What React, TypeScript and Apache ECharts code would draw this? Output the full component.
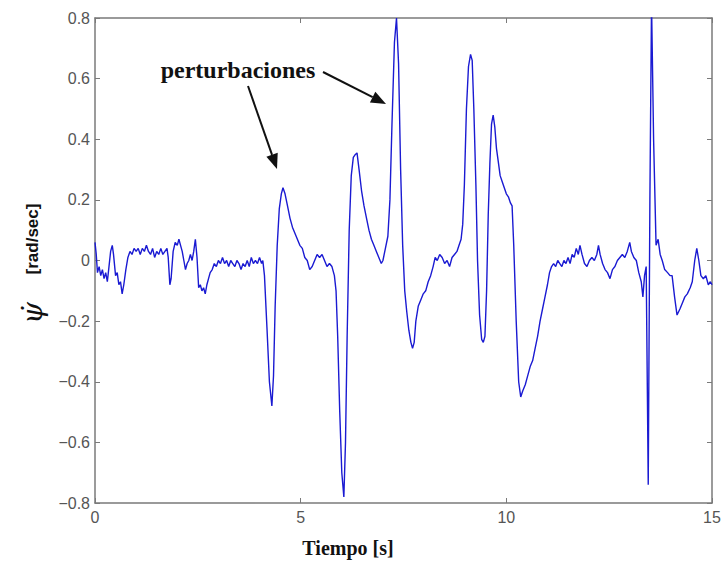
import React, { useEffect, useRef } from "react";
import * as echarts from "echarts";

const timeS: number[] = [
  0.00, 0.03, 0.06, 0.10, 0.14, 0.18, 0.22, 0.26, 0.30, 0.34, 0.38, 0.42, 0.45, 0.50, 0.54, 0.58, 0.62, 0.66, 0.70, 0.75,
  0.80, 0.85, 0.90, 0.95, 1.00, 1.05, 1.10, 1.15, 1.20, 1.25, 1.30, 1.35, 1.40, 1.45, 1.50, 1.55, 1.60, 1.65, 1.70, 1.75,
  1.78, 1.82, 1.85, 1.90, 1.95, 2.00, 2.04, 2.08, 2.12, 2.16, 2.20, 2.24, 2.28, 2.32, 2.36, 2.40, 2.44, 2.48, 2.52, 2.56,
  2.60, 2.64, 2.68, 2.72, 2.76, 2.80, 2.85, 2.90, 2.95, 3.00, 3.05, 3.10, 3.15, 3.20, 3.25, 3.30, 3.35, 3.40, 3.45, 3.50,
  3.55, 3.60, 3.65, 3.70, 3.75, 3.80, 3.85, 3.90, 3.95, 4.00, 4.05, 4.08, 4.12, 4.18, 4.24, 4.30, 4.34, 4.38, 4.43, 4.48,
  4.53, 4.57, 4.62, 4.68, 4.74, 4.80, 4.86, 4.92, 4.98, 5.04, 5.10, 5.16, 5.22, 5.28, 5.34, 5.40, 5.46, 5.52, 5.58, 5.64,
  5.70, 5.76, 5.82, 5.86, 5.90, 5.95, 6.00, 6.05, 6.09, 6.13, 6.18, 6.23, 6.28, 6.33, 6.37, 6.42, 6.48, 6.54, 6.60, 6.66,
  6.72, 6.78, 6.84, 6.90, 6.96, 7.00, 7.06, 7.12, 7.17, 7.22, 7.28, 7.33, 7.38, 7.43, 7.48, 7.53, 7.58, 7.63, 7.68, 7.72,
  7.76, 7.80, 7.86, 7.92, 7.98, 8.04, 8.10, 8.16, 8.22, 8.27, 8.32, 8.38, 8.44, 8.50, 8.56, 8.62, 8.68, 8.74, 8.80, 8.85,
  8.90, 8.94, 8.98, 9.03, 9.08, 9.13, 9.17, 9.21, 9.26, 9.30, 9.35, 9.40, 9.44, 9.48, 9.52, 9.56, 9.60, 9.64, 9.68, 9.72,
  9.76, 9.80, 9.85, 9.90, 9.95, 10.00, 10.05, 10.10, 10.14, 10.18, 10.24, 10.30, 10.35, 10.40, 10.46, 10.52, 10.58, 10.64, 10.70, 10.76,
  10.82, 10.88, 10.94, 11.00, 11.05, 11.10, 11.15, 11.20, 11.25, 11.30, 11.35, 11.40, 11.45, 11.50, 11.55, 11.60, 11.65, 11.70, 11.75, 11.79,
  11.84, 11.90, 11.96, 12.02, 12.08, 12.14, 12.20, 12.24, 12.28, 12.34, 12.40, 12.46, 12.52, 12.58, 12.64, 12.70, 12.76, 12.82, 12.88, 12.94,
  13.00, 13.04, 13.10, 13.16, 13.22, 13.28, 13.32, 13.36, 13.40, 13.45, 13.49, 13.53, 13.58, 13.64, 13.69, 13.74, 13.79, 13.85, 13.92, 13.98,
  14.03, 14.09, 14.15, 14.22, 14.28, 14.34, 14.40, 14.47, 14.52, 14.58, 14.63, 14.68, 14.73, 14.79, 14.85, 14.91, 14.96, 15.00,
];

const yawRate: number[] = [
  0.06, 0.02, -0.04, -0.02, -0.05, -0.03, -0.06, -0.04, -0.07, -0.02, 0.03, 0.05, 0.02, -0.05, -0.04, -0.08, -0.07, -0.11, -0.08, -0.03,
  0.01, 0.03, 0.02, 0.04, 0.03, 0.04, 0.02, 0.04, 0.03, 0.05, 0.03, 0.02, 0.04, 0.01, 0.03, 0.02, 0.04, 0.02, 0.03, 0.04,
  0.01, -0.08, -0.06, 0.03, 0.06, 0.05, 0.07, 0.05, 0.03, 0.00, -0.03, -0.01, 0.00, 0.02, 0.00, 0.03, 0.07, 0.01, -0.09, -0.08,
  -0.10, -0.09, -0.11, -0.08, -0.06, -0.04, -0.03, -0.01, -0.02, 0.00, -0.01, 0.01, -0.01, 0.00, -0.02, 0.00, -0.01, -0.02, 0.00, -0.01,
  -0.03, -0.01, -0.02, 0.00, -0.02, 0.01, -0.01, 0.00, -0.01, 0.01, -0.01, 0.00, -0.05, -0.22, -0.40, -0.48, -0.38, -0.15, 0.05, 0.17,
  0.22, 0.24, 0.22, 0.18, 0.14, 0.11, 0.09, 0.07, 0.05, 0.04, 0.01, 0.00, -0.03, -0.02, 0.00, 0.02, 0.01, 0.02, 0.00, -0.02,
  -0.01, -0.02, -0.05, -0.10, -0.25, -0.50, -0.70, -0.78, -0.60, -0.25, 0.10, 0.28, 0.34, 0.35, 0.355, 0.30, 0.23, 0.18, 0.14, 0.10,
  0.07, 0.05, 0.03, 0.01, -0.01, 0.00, 0.04, 0.08, 0.20, 0.45, 0.72, 0.80, 0.65, 0.30, 0.05, -0.10, -0.17, -0.23, -0.27, -0.29,
  -0.27, -0.20, -0.15, -0.13, -0.11, -0.10, -0.07, -0.05, -0.02, 0.01, 0.00, 0.02, 0.01, -0.01, 0.00, -0.02, 0.01, 0.02, 0.03, 0.05,
  0.07, 0.12, 0.25, 0.50, 0.64, 0.68, 0.66, 0.50, 0.25, 0.00, -0.18, -0.26, -0.27, -0.25, -0.10, 0.15, 0.32, 0.45, 0.48, 0.44,
  0.37, 0.33, 0.28, 0.26, 0.24, 0.22, 0.21, 0.19, 0.18, 0.05, -0.20, -0.40, -0.45, -0.43, -0.41, -0.38, -0.35, -0.33, -0.29, -0.25,
  -0.20, -0.16, -0.12, -0.08, -0.04, -0.02, -0.01, -0.02, 0.00, -0.01, -0.02, 0.00, -0.01, 0.01, -0.01, 0.02, 0.01, 0.04, 0.02, 0.05,
  0.02, -0.01, -0.02, 0.00, 0.01, 0.00, 0.02, 0.05, 0.02, -0.01, -0.03, -0.04, -0.06, -0.03, -0.02, 0.00, 0.01, 0.02, 0.01, 0.03,
  0.06, 0.03, 0.01, 0.00, -0.04, -0.07, -0.12, -0.05, -0.02, -0.74, 0.20, 0.85, 0.40, 0.05, 0.07, 0.02, 0.00, -0.03, -0.04, -0.05,
  -0.05, -0.12, -0.18, -0.16, -0.14, -0.12, -0.11, -0.09, -0.07, 0.00, 0.04, 0.00, -0.05, -0.06, -0.05, -0.08, -0.07, -0.08,
];

const xTicks: number[] = [0, 5, 10, 15];
const yTickLabels: string[] = ["−0.8", "−0.6", "−0.4", "−0.2", "0", "0.2", "0.4", "0.6", "0.8"];

const annotationText = "perturbaciones";
const xTitle = "Tiempo [s]";
const yTitle = "[rad/sec]";

function arrow(x1: number, y1: number, x2: number, y2: number) {
  const ang = Math.atan2(y2 - y1, x2 - x1);
  const len = 15;
  const half = 6;
  const bx = x2 - len * Math.cos(ang);
  const by = y2 - len * Math.sin(ang);
  const px = -Math.sin(ang) * half;
  const py = Math.cos(ang) * half;
  return [
    {
      type: "line",
      shape: { x1, y1, x2: bx, y2: by },
      style: { stroke: "#111", lineWidth: 2 },
    },
    {
      type: "polygon",
      shape: { points: [[x2, y2], [bx + px, by + py], [bx - px, by - py]] },
      style: { fill: "#111" },
    },
  ];
}

export default function App() {
  const ref = useRef<HTMLDivElement>(null);
  useEffect(() => {
    if (!ref.current) return;
    const chart = echarts.init(ref.current, null, { renderer: "svg" });
    const data = timeS.map((t, i) => [t, yawRate[i]]);
    const axisColor = "#7a7a7a";
    const labelColor = "#555";
    const yLabelFor = (v: number) => {
      const idx = Math.round((v + 0.8) / 0.2);
      return yTickLabels[idx] ?? "";
    };
    const frameAxis = (position: string, showLabel: boolean, extra: any) => ({
      type: "value",
      position,
      axisLine: { show: true, onZero: false, lineStyle: { color: axisColor, width: 1.5 } },
      axisTick: { show: true, inside: true, length: 5, lineStyle: { color: axisColor } },
      axisLabel: showLabel
        ? { color: labelColor, fontSize: 16, fontFamily: "Liberation Sans, Arial, sans-serif", ...extra }
        : { show: false },
      splitLine: { show: false },
    });
    chart.setOption({
      animation: false,
      backgroundColor: "#fff",
      grid: { left: 95, right: 15, top: 18, bottom: 59, containLabel: false },
      xAxis: [
        { ...frameAxis("bottom", true, { margin: 6 }), min: xTicks[0], max: xTicks[xTicks.length - 1], interval: 5 },
        { ...frameAxis("top", false, {}), min: xTicks[0], max: xTicks[xTicks.length - 1], interval: 5 },
      ],
      yAxis: [
        {
          ...frameAxis("left", true, { margin: 5, formatter: (v: number) => yLabelFor(v) }),
          min: -0.8,
          max: 0.8,
          interval: 0.2,
        },
        { ...frameAxis("right", false, {}), min: -0.8, max: 0.8, interval: 0.2 },
      ],
      series: [
        {
          type: "line",
          data,
          xAxisIndex: 0,
          yAxisIndex: 0,
          showSymbol: false,
          symbol: "none",
          clip: true,
          lineStyle: { color: "#1a1ad2", width: 1.4 },
        },
      ],
      graphic: [
        {
          type: "text",
          x: 238,
          y: 70,
          style: {
            text: annotationText,
            font: "bold 24px 'Liberation Serif', 'Times New Roman', serif",
            fill: "#111",
            align: "center",
            verticalAlign: "middle",
          },
        },
        ...arrow(248, 86, 277, 169),
        ...arrow(323, 72, 386, 104),
        {
          type: "text",
          x: 348,
          y: 548,
          style: {
            text: xTitle,
            font: "bold 20px 'Liberation Serif', 'Times New Roman', serif",
            fill: "#111",
            align: "center",
            verticalAlign: "middle",
          },
        },
        {
          type: "text",
          x: 32,
          y: 239,
          rotation: Math.PI / 2,
          style: {
            text: yTitle,
            font: "bold 17px 'Liberation Sans', Arial, sans-serif",
            fill: "#111",
            align: "center",
            verticalAlign: "middle",
          },
        },
        {
          type: "text",
          x: 32,
          y: 313,
          rotation: Math.PI / 2,
          style: {
            text: "ψ̇",
            font: "italic 28px 'DejaVu Serif', 'Liberation Serif', serif",
            fill: "#111",
            align: "center",
            verticalAlign: "middle",
          },
        },
      ],
    });
    return () => chart.dispose();
  }, []);
  return (
    <div
      ref={ref}
      style={{ position: "fixed", left: 0, top: 0, width: 727, height: 562, background: "#fff" }}
    />
  );
}
